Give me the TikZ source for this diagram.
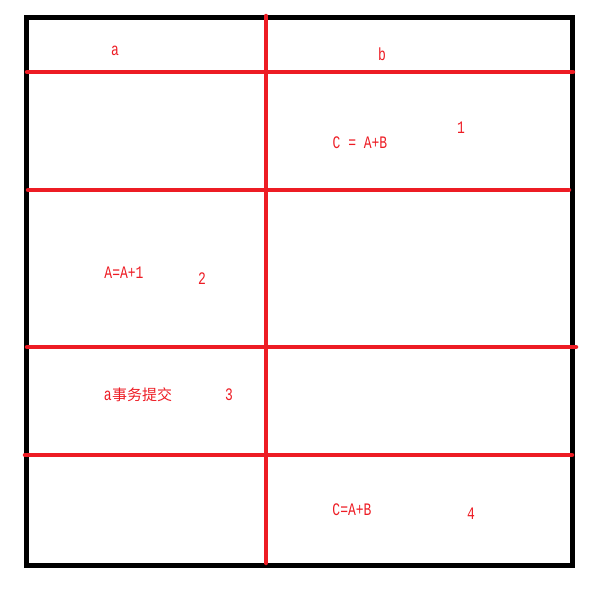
\documentclass[tikz,border=0pt]{standalone}
\usepackage{fontspec}
\usepackage{graphicx}
\setmainfont{Liberation Mono}
\newfontfamily\cjk{Noto Sans CJK SC}
\definecolor{pred}{HTML}{ED1C24}
\newcommand\tallt[1]{\scalebox{1}[1.35]{#1}}
\begin{document}
\begin{tikzpicture}[x=1pt,y=-1pt,
  frame/.style={draw=black,line width=5pt},
  rline/.style={draw=pred,line width=4.5pt,line cap=round},
  lbl/.style={text=pred,inner sep=0pt,font=\fontsize{13}{13}\selectfont}]
\useasboundingbox (0,0) rectangle (606,603);
\draw[frame] (26.5,17.5) rectangle (572.5,565);
\draw[rline] (266,16) -- (266,563);
\draw[rline] (27,72) -- (573,72);
\draw[rline] (28,190) -- (569,190);
\draw[rline] (27,347) -- (576,347);
\draw[rline] (25,455) -- (572,455);
\node[lbl] (la) at (115,51) {\tallt{a}};
\node[lbl] (lb) at (382,54) {\tallt{b}};
\node[lbl] (l1) at (461,128) {\tallt{1}};
\node[lbl] (c1) at (360,143) {\tallt{C = A+B}};
\node[lbl] (a1) at (124,273) {\tallt{A=A+1}};
\node[lbl] (l2) at (202,279) {\tallt{2}};
\node[lbl] (at) at (138,395) {\tallt{a}\hspace{0.5pt}{\cjk\fontsize{15}{15}\selectfont 事务提交}};
\node[lbl] (l3) at (229,395) {\tallt{3}};
\node[lbl] (c2) at (352,510) {\tallt{C=A+B}};
\node[lbl] (l4) at (471,514) {\tallt{4}};
\end{tikzpicture}
\end{document}
